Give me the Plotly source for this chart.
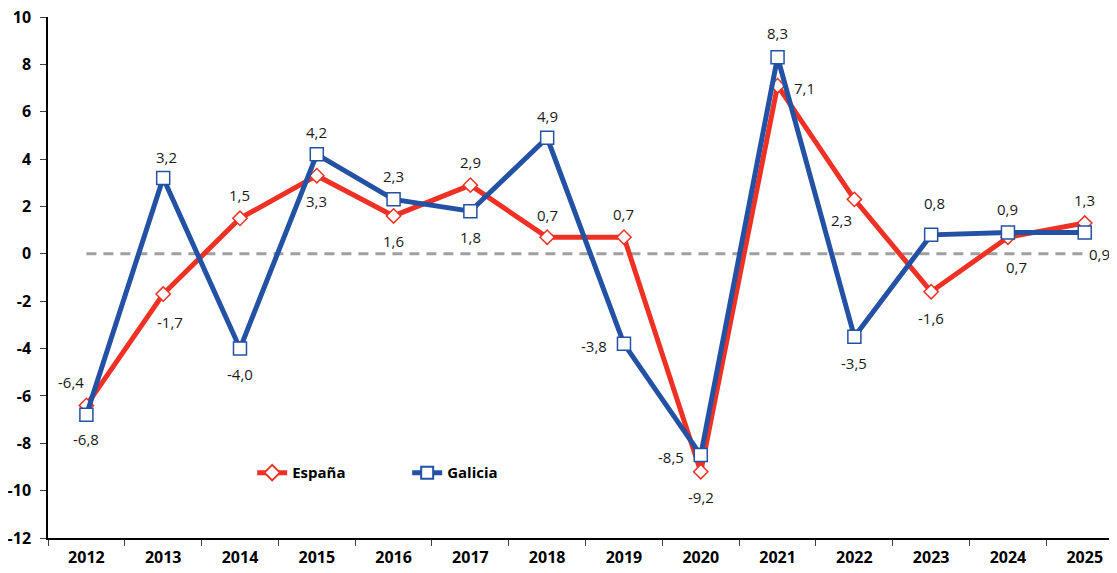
import plotly.graph_objects as go

years = ["2012", "2013", "2014", "2015", "2016", "2017", "2018",
         "2019", "2020", "2021", "2022", "2023", "2024", "2025"]
espana = [-6.4, -1.7, 1.5, 3.3, 1.6, 2.9, 0.7, 0.7, -9.2, 7.1, 2.3, -1.6, 0.7, 1.3]
galicia = [-6.8, 3.2, -4.0, 4.2, 2.3, 1.8, 4.9, -3.8, -8.5, 8.3, -3.5, 0.8, 0.9, 0.9]
zero_ref = [0] * len(years)
y_ticks = list(range(-12, 11, 2))
y_tick_text = [str(t) for t in y_ticks]

# label offsets in pixels (dx, dy) – layout only
esp_off = [(-15, 23), (7, -28), (0, 23), (0, -25), (0, -25), (0, 23), (0, 22),
           (0, 23), (0, -25), (27, -2), (-13, -21), (0, -26), (9, -30), (0, 23)]
gal_off = [(0, -24), (3, 21), (0, -25), (0, 22), (0, 23), (0, -26), (0, 22),
           (-30, -2), (-30, -2), (0, 24), (0, -26), (3, 32), (0, 24), (15, -21)]

RED = "#EE3124"
BLUE = "#2351A3"
FONT = "Open Sans"


def fmt(v):
    return f"{v:.1f}".replace(".", ",")


fig = go.Figure()
fig.add_trace(go.Scatter(
    x=years, y=zero_ref, mode="lines", showlegend=False, hoverinfo="skip",
    line=dict(color="#A0A0A0", width=3, dash="10px,7px")))
fig.add_trace(go.Scatter(
    x=years, y=espana, name="España", mode="lines+markers",
    line=dict(color=RED, width=5),
    marker=dict(symbol="diamond", size=11, color="white",
                line=dict(color=RED, width=1.5))))
fig.add_trace(go.Scatter(
    x=years, y=galicia, name="Galicia", mode="lines+markers",
    line=dict(color=BLUE, width=5),
    marker=dict(symbol="square", size=13, color="white",
                line=dict(color=BLUE, width=1.5))))

for i, (v, (dx, dy)) in enumerate(zip(espana, esp_off)):
    fig.add_annotation(x=i, y=v, xref="x", yref="y", text=fmt(v), showarrow=False,
                       xshift=dx, yshift=dy,
                       font=dict(family=FONT, size=15, color="#1a1a1a"))
for i, (v, (dx, dy)) in enumerate(zip(galicia, gal_off)):
    fig.add_annotation(x=i, y=v, xref="x", yref="y", text=fmt(v), showarrow=False,
                       xshift=dx, yshift=dy,
                       font=dict(family=FONT, size=15, color="#1a1a1a"))

# page body has an 8px margin, so the figure is sized to fit the window
fig.update_layout(
    width=1109, height=565,
    margin=dict(l=40, r=0, t=9, b=35),
    paper_bgcolor="white", plot_bgcolor="white",
    font=dict(family=FONT, color="black"),
    showlegend=True,
    legend=dict(orientation="h", x=0.191, y=0.125, xanchor="left", yanchor="middle",
                font=dict(family=FONT, size=15, color="black", weight="bold"),
                entrywidth=110, entrywidthmode="pixels",
                bgcolor="rgba(0,0,0,0)", itemsizing="constant"),
    xaxis=dict(type="category", range=[-0.5, 13.42], showgrid=False, zeroline=False,
               automargin=False, ticklabeloverflow="allow",
               showline=True, linecolor="black", linewidth=1.5,
               ticks="outside", tickson="boundaries", ticklen=6, tickcolor="#404040",
               ticklabelstandoff=4,
               tickfont=dict(family=FONT, size=16, weight="bold", color="black")),
    yaxis=dict(range=[-12, 10], tickvals=y_ticks, ticktext=y_tick_text,
               showgrid=False, zeroline=False, automargin=False,
               ticklabeloverflow="allow",
               showline=True, linecolor="black", linewidth=1.5,
               ticks="outside", ticklen=6, tickcolor="#404040",
               ticklabelstandoff=6,
               tickfont=dict(family=FONT, size=16, weight="bold", color="black")),
)

fig.write_html("out.html")
